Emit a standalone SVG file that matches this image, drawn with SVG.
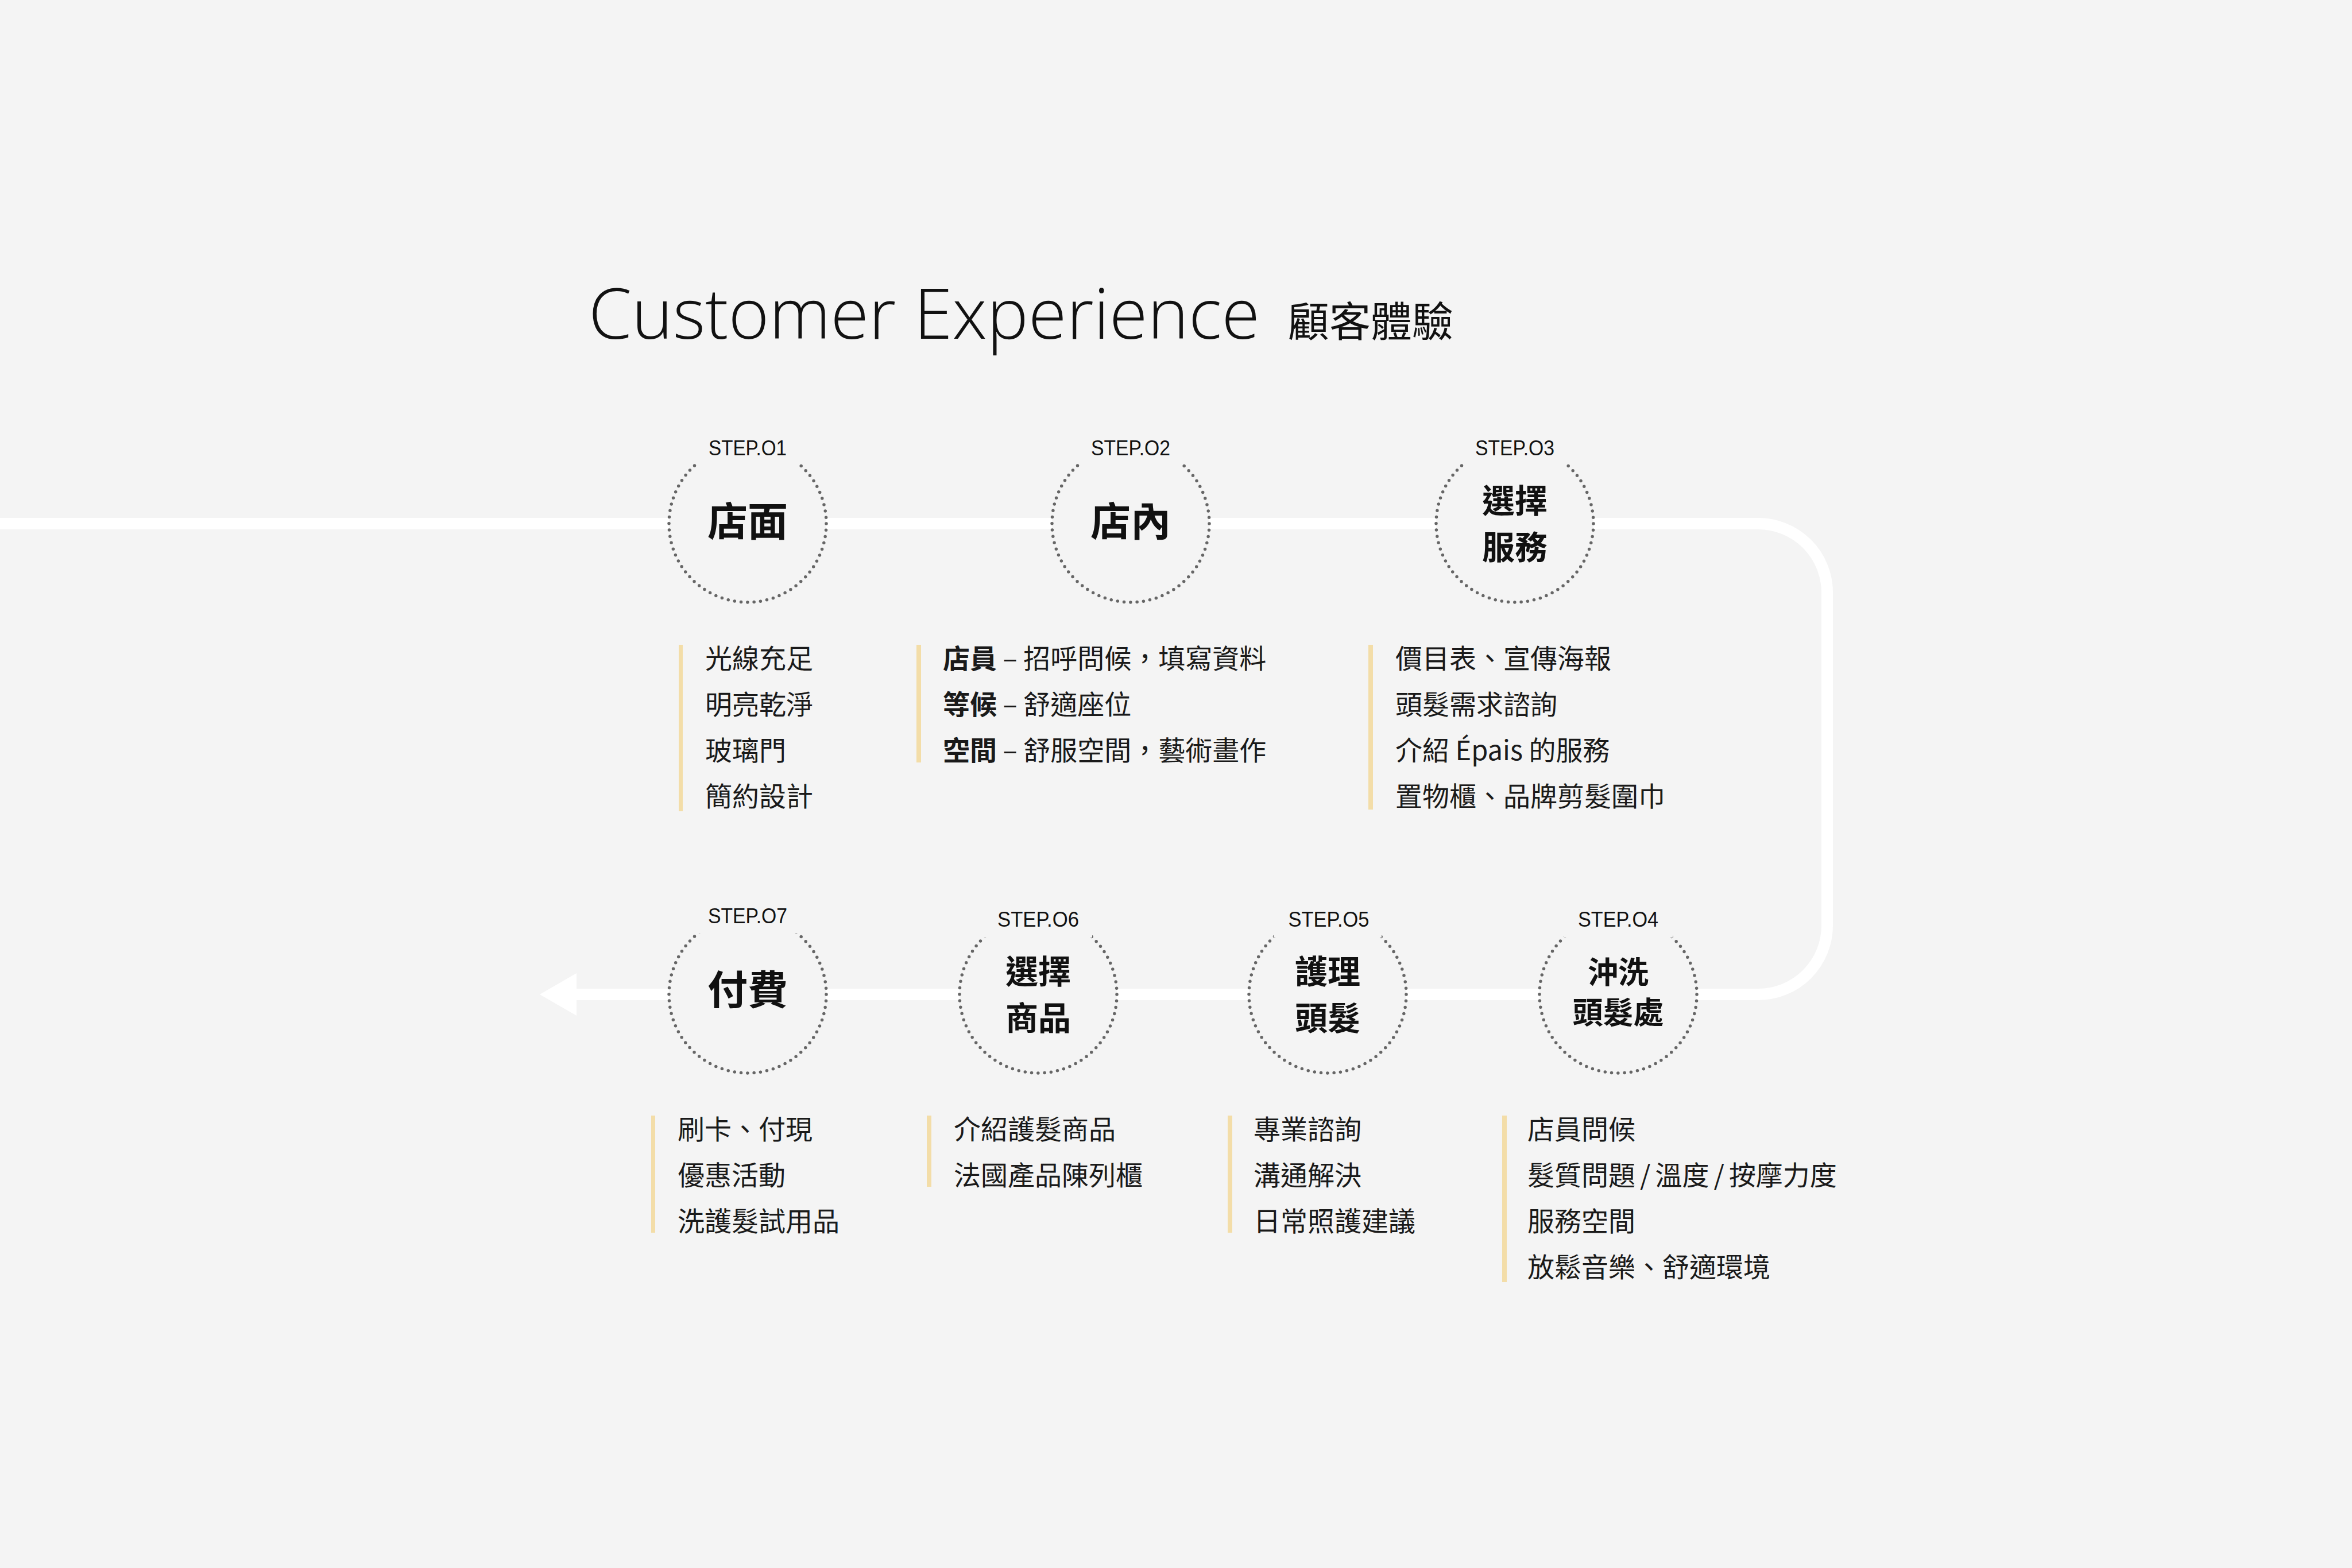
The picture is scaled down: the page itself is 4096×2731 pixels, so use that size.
<svg xmlns="http://www.w3.org/2000/svg" width="4096" height="2731" viewBox="0 0 4096 2731">
<defs>
<style>
.bg{fill:#f4f4f4}
.flow{fill:none;stroke:#ffffff;stroke-width:20}
.ring{fill:#f4f4f4;stroke:#666666;stroke-width:5.5;stroke-linecap:round;stroke-dasharray:0 11.33}
.mask{fill:#f4f4f4}
.step{font-family:"Liberation Sans","Noto Sans",sans-serif;font-size:37px;fill:#111;text-anchor:middle}
.t1{font-family:"Noto Sans CJK TC","Noto Sans CJK SC",sans-serif;font-weight:700;font-size:70px;fill:#111;text-anchor:middle}
.t2{font-family:"Noto Sans CJK TC","Noto Sans CJK SC",sans-serif;font-weight:700;font-size:57px;fill:#111;text-anchor:middle}
.t3{font-family:"Noto Sans CJK TC","Noto Sans CJK SC",sans-serif;font-weight:700;font-size:53px;fill:#111;text-anchor:middle}
.d{font-family:"Noto Sans CJK TC","Noto Sans CJK SC",sans-serif;font-size:47px;fill:#1a1a1a}
.b{font-weight:700}
.bar{fill:#f3dda8}
</style>
<marker id="arrow" markerUnits="userSpaceOnUse" markerWidth="70" markerHeight="80" viewBox="0 -40 70 80" refX="0" refY="0" orient="auto">
<path d="M0,-37 L64,0 L0,37 Z" fill="#ffffff"/>
</marker>
</defs>
<rect class="bg" x="0" y="0" width="4096" height="2731"/>

<g id="title">
<text x="1025" y="590" font-family="'Open Sans','Liberation Sans',sans-serif" font-weight="300" font-size="121" fill="#111" textLength="1169" lengthAdjust="spacingAndGlyphs">Customer Experience</text>
<text x="2243" y="586" font-family="'Noto Sans CJK TC','Noto Sans CJK SC',sans-serif" font-size="72" fill="#111">顧客體驗</text>
</g>

<g id="connectors">
<path class="flow" d="M0,912 H3062 A120,120 0 0 1 3182,1032 V1612 A120,120 0 0 1 3062,1732 H1004" marker-end="url(#arrow)"/>
</g>

<g id="step01">
<circle class="ring" cx="1302" cy="912" r="137"/>
<rect class="mask" x="1214" y="755" width="176" height="52"/>
<text class="step" x="1302" y="793" textLength="136" lengthAdjust="spacingAndGlyphs">STEP.O1</text>
<text class="t1" x="1302" y="934">店面</text>
<rect class="bar" x="1182" y="1123" width="7" height="290"/>
<text class="d" x="1228" y="1164">光線充足</text>
<text class="d" x="1228" y="1244">明亮乾淨</text>
<text class="d" x="1228" y="1324">玻璃門</text>
<text class="d" x="1228" y="1404">簡約設計</text>
</g>

<g id="step02">
<circle class="ring" cx="1969" cy="912" r="137"/>
<rect class="mask" x="1881" y="755" width="176" height="52"/>
<text class="step" x="1969" y="793" textLength="138" lengthAdjust="spacingAndGlyphs">STEP.O2</text>
<text class="t1" x="1969" y="934">店內</text>
<rect class="bar" x="1596" y="1123" width="8" height="205"/>
<text class="d" x="1642" y="1164"><tspan class="b">店員</tspan> – 招呼問候，填寫資料</text>
<text class="d" x="1642" y="1244"><tspan class="b">等候</tspan> – 舒適座位</text>
<text class="d" x="1642" y="1324"><tspan class="b">空間</tspan> – 舒服空間，藝術畫作</text>
</g>

<g id="step03">
<circle class="ring" cx="2638" cy="912" r="137"/>
<rect class="mask" x="2550" y="755" width="176" height="52"/>
<text class="step" x="2638" y="793" textLength="138" lengthAdjust="spacingAndGlyphs">STEP.O3</text>
<text class="t2" x="2638" y="893">選擇</text>
<text class="t2" x="2638" y="974">服務</text>
<rect class="bar" x="2383" y="1123" width="8" height="287"/>
<text class="d" x="2430" y="1164">價目表、宣傳海報</text>
<text class="d" x="2430" y="1244">頭髮需求諮詢</text>
<text class="d" x="2430" y="1324">介紹 Épais 的服務</text>
<text class="d" x="2430" y="1404">置物櫃、品牌剪髮圍巾</text>
</g>

<g id="step04">
<circle class="ring" cx="2818" cy="1732" r="137"/>
<rect class="mask" x="2723" y="1575" width="190" height="58"/>
<text class="step" x="2818" y="1614" textLength="140" lengthAdjust="spacingAndGlyphs">STEP.O4</text>
<text class="t3" x="2818" y="1713">沖洗</text>
<text class="t3" x="2818" y="1783">頭髮處</text>
<rect class="bar" x="2616" y="1943" width="8" height="290"/>
<text class="d" x="2660" y="1984">店員問候</text>
<text class="d" x="2660" y="2064">髮質問題<tspan dx="8">/</tspan><tspan dx="8">溫度</tspan><tspan dx="8">/</tspan><tspan dx="8">按摩力度</tspan></text>
<text class="d" x="2660" y="2144">服務空間</text>
<text class="d" x="2660" y="2224">放鬆音樂、舒適環境</text>
</g>

<g id="step05">
<circle class="ring" cx="2312" cy="1732" r="137"/>
<rect class="mask" x="2218" y="1575" width="188" height="58"/>
<text class="step" x="2314" y="1614" textLength="141" lengthAdjust="spacingAndGlyphs">STEP.O5</text>
<text class="t2" x="2312" y="1713">護理</text>
<text class="t2" x="2312" y="1794">頭髮</text>
<rect class="bar" x="2138" y="1943" width="8" height="204"/>
<text class="d" x="2183" y="1984">專業諮詢</text>
<text class="d" x="2183" y="2064">溝通解決</text>
<text class="d" x="2183" y="2144">日常照護建議</text>
</g>

<g id="step06">
<circle class="ring" cx="1808" cy="1732" r="137"/>
<rect class="mask" x="1712" y="1575" width="190" height="58"/>
<text class="step" x="1808" y="1614" textLength="142" lengthAdjust="spacingAndGlyphs">STEP.O6</text>
<text class="t2" x="1808" y="1713">選擇</text>
<text class="t2" x="1808" y="1794">商品</text>
<rect class="bar" x="1614" y="1943" width="8" height="124"/>
<text class="d" x="1661" y="1984">介紹護髮商品</text>
<text class="d" x="1661" y="2064">法國產品陳列櫃</text>
</g>

<g id="step07">
<circle class="ring" cx="1302" cy="1732" r="137"/>
<rect class="mask" x="1214" y="1570" width="176" height="56"/>
<text class="step" x="1302" y="1608" textLength="138" lengthAdjust="spacingAndGlyphs">STEP.O7</text>
<text class="t1" x="1302" y="1750">付費</text>
<rect class="bar" x="1134" y="1943" width="7" height="204"/>
<text class="d" x="1180" y="1984">刷卡、付現</text>
<text class="d" x="1180" y="2064">優惠活動</text>
<text class="d" x="1180" y="2144">洗護髮試用品</text>
</g>
</svg>
